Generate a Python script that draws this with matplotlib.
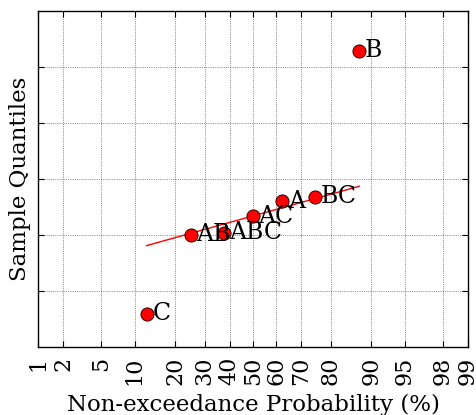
import math
from statistics import NormalDist

import numpy as np
import matplotlib
matplotlib.use("Agg")
import matplotlib.pyplot as plt

# Effect estimates and their plotting positions (non-exceedance probability, %)
effect_names = ["C", "AB", "ABC", "AC", "A", "BC", "B"]
effect_values = [-14.1, 0.0, 0.4, 3.3, 6.0, 6.8, 32.9]
probabilities = [12.5, 25.0, 37.5, 50.0, 62.5, 75.0, 87.5]

# Reference line evaluated at the lowest and highest plotting positions
fit_probabilities = [12.5, 87.5]
fit_values = [-1.9, 8.7]

prob_ticks = [1, 2, 5, 10, 20, 30, 40, 50, 60, 70, 80, 90, 95, 98, 99]
y_ticks = [-10, 0, 10, 20, 30]

_nd = NormalDist()


def _to_z(p):
    p = np.clip(np.asarray(p, dtype=float), 1e-9, 100 - 1e-9) / 100.0
    return np.vectorize(_nd.inv_cdf, otypes=[float])(p)


def _from_z(z):
    z = np.asarray(z, dtype=float)
    return np.vectorize(lambda v: 50.0 * (1.0 + math.erf(v / math.sqrt(2.0))),
                        otypes=[float])(z)


plt.rcParams["font.family"] = ["DejaVu Serif"]

fig = plt.figure(figsize=(4.76, 4.15), dpi=100)
ax = fig.add_axes([0.0798, 0.164, 0.9034, 0.8095])
ax.set_xscale("function", functions=(_to_z, _from_z))

ax.plot(fit_probabilities, fit_values, color="red", lw=1.0, zorder=2)
ax.plot(probabilities, effect_values, linestyle="none", marker="o",
        markersize=9.5, markerfacecolor="red", markeredgecolor="black",
        markeredgewidth=0.6, zorder=2)

for name, p, v in zip(effect_names, probabilities, effect_values):
    ax.annotate(name, (p, v), xytext=(4.0, 0), textcoords="offset points",
                ha="left", va="center", fontsize=17, zorder=3)

ax.set_xlim(1, 99)
ax.set_ylim(-20, 40)
ax.set_xticks(prob_ticks)
ax.set_xticklabels([str(t) for t in prob_ticks], rotation=90, fontsize=16)
ax.xaxis.set_minor_locator(matplotlib.ticker.NullLocator())
ax.set_yticks(y_ticks)
ax.set_yticklabels([])

ax.tick_params(direction="in", top=True, right=True, length=4, width=0.8)
ax.tick_params(axis="x", pad=7)
ax.grid(True, color="black", linestyle=":", linewidth=0.5, alpha=0.8)
for s in ax.spines.values():
    s.set_linewidth(1.0)

ax.set_xlabel("Non-exceedance Probability (%)", fontsize=16.5, labelpad=6)
ax.set_ylabel("Sample Quantiles", fontsize=16.5, labelpad=1.5)

fig.savefig("out.png", dpi=100)
